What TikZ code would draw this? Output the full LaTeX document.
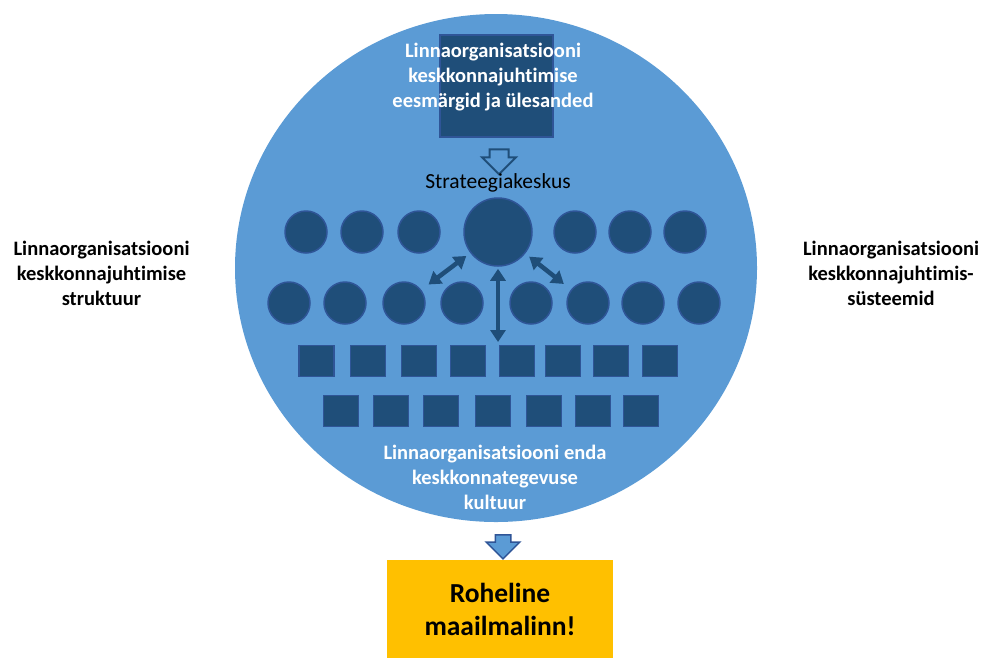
\documentclass[tikz,border=0pt]{standalone}
\usepackage{fontspec}
\setmainfont{Carlito}[RawFeature=-liga]
\usetikzlibrary{shapes.geometric,shapes.arrows,arrows.meta}
\definecolor{skyblue}{HTML}{5B9BD5}
\definecolor{navyfill}{HTML}{1F4E79}
\definecolor{navyline}{HTML}{2F5597}
\definecolor{goldbox}{HTML}{FFC000}
\begin{document}
\begin{tikzpicture}[x=1pt, y=-1pt,
    unit/.style={circle, fill=navyfill, draw=navyline, line width=1.5pt,
      minimum size=42pt, inner sep=0pt},
    team/.style={rectangle, fill=navyfill, draw=navyline, line width=1.5pt,
      minimum width=35pt, minimum height=31pt, inner sep=0pt},
    caption/.style={align=center, font=\bfseries\fontsize{20.5}{25}\selectfont},
    link/.style={{Triangle[width=15pt,length=12pt]}-{Triangle[width=15pt,length=12pt]},
      line width=4.5pt, draw=navyfill}]
  \useasboundingbox (0,0) rectangle (984,657);
  % the city organisation
  \node[ellipse, fill=skyblue, minimum width=522pt, minimum height=508pt,
    inner sep=0pt] (world) at (496,268) {};
  \node[rectangle, fill=navyfill, draw=navyline, line width=1.5pt,
    minimum width=113pt, minimum height=102pt] (goal) at (496.5,86) {};
  \node[caption, text=white] (goaltext) at (493,77)
    {Linnaorganisatsiooni\\ keskkonnajuhtimise\\ eesmärgid ja ülesanded};
  \node[single arrow, draw=navyfill, fill=skyblue, line width=2pt,
    single arrow head extend=7.5pt, minimum height=25pt, inner xsep=0pt,
    inner ysep=8.5pt, rotate=-90] (into) at (499,157) {};
  \node[font=\fontsize{21.5}{26}\selectfont] (centre) at (498,183) {Strateegiakeskus};
  % units
  \node[unit, minimum size=68pt] (big) at (498,232) {};
  \foreach \x [count=\i] in {306,362,419,575,630,685}
    \node[unit] (a\i) at (\x,232) {};
  \foreach \x [count=\i] in {289,345,404,462,531,588,643,699}
    \node[unit] (b\i) at (\x,303) {};
  \foreach \x [count=\i] in {316.5,368,419,468,517,563,611,660}
    \node[team] (c\i) at (\x,361) {};
  \foreach \x [count=\i] in {341,391,441,493,544,593,641}
    \node[team] (d\i) at (\x,411) {};
  \coordinate (down) at (498,342);
  \draw[link, shorten <=5pt, shorten >=9pt] (big) -- (b3);
  \draw[link, shorten <=5pt, shorten >=9pt] (big) -- (b6);
  \draw[link, shorten <=2pt] (big) -- (down);
  \node[caption, text=white] (culture) at (495,477)
    {Linnaorganisatsiooni enda\\ keskkonnategevuse\\ kultuur};
  % sides
  \node[caption] (structure) at (101.5,273)
    {Linnaorganisatsiooni\\ keskkonnajuhtimise\\ struktuur};
  \node[caption] (systems) at (891,273)
    {Linnaorganisatsiooni\\ keskkonnajuhtimis-\\ süsteemid};
  % result
  \node[single arrow, draw=navyline, fill=skyblue, line width=1.5pt,
    single arrow head extend=9pt, minimum height=24pt, inner xsep=0pt,
    inner ysep=7pt, rotate=-90] (out) at (503,543) {};
  \node[rectangle, fill=goldbox, minimum width=226pt, minimum height=98pt,
    align=center, font=\bfseries\fontsize{27.5}{33}\selectfont] (green) at (500,609)
    {Roheline\\ maailmalinn!};
\end{tikzpicture}
\end{document}
